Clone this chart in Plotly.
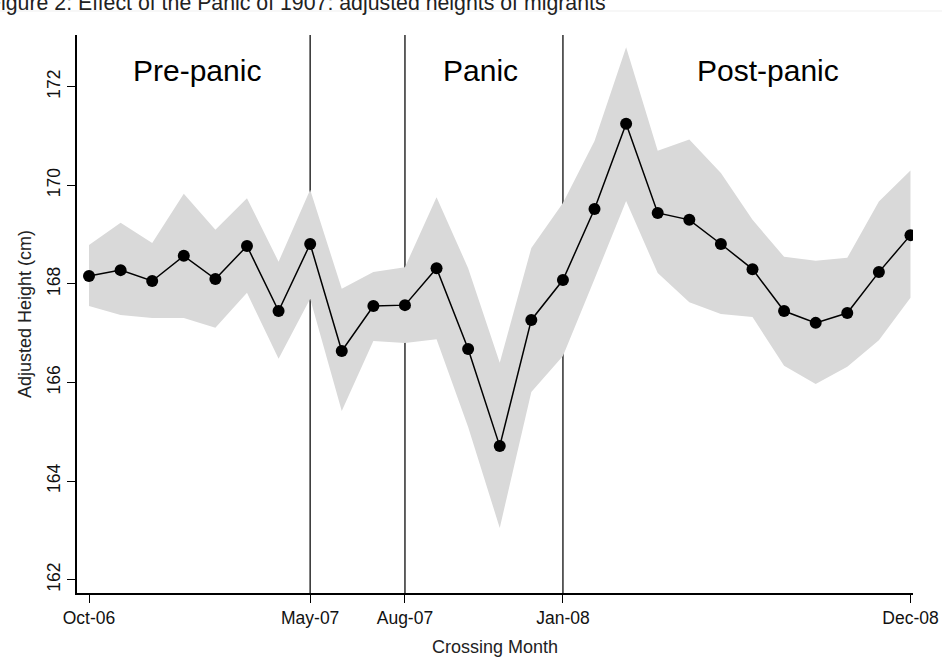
import plotly.graph_objects as go

# ---- data ----
months = ["Oct-06", "Nov-06", "Dec-06", "Jan-07", "Feb-07", "Mar-07", "Apr-07",
          "May-07", "Jun-07", "Jul-07", "Aug-07", "Sep-07", "Oct-07", "Nov-07",
          "Dec-07", "Jan-08", "Feb-08", "Mar-08", "Apr-08", "May-08", "Jun-08",
          "Jul-08", "Aug-08", "Sep-08", "Oct-08", "Nov-08", "Dec-08"]
height = [168.16, 168.28, 168.06, 168.57, 168.10, 168.77, 167.45,
          168.81, 166.64, 167.55, 167.57, 168.32, 166.68, 164.71,
          167.27, 168.08, 169.52, 171.25, 169.44, 169.30, 168.81,
          168.30, 167.45, 167.21, 167.41, 168.24, 168.99]
upper = [168.79, 169.24, 168.83, 169.83, 169.10, 169.74, 168.45,
         169.91, 167.90, 168.24, 168.34, 169.76, 168.32, 166.40,
         168.73, 169.64, 170.90, 172.80, 170.70, 170.93, 170.25,
         169.30, 168.55, 168.47, 168.53, 169.67, 170.30]
lower = [167.55, 167.37, 167.31, 167.31, 167.11, 167.82, 166.48,
         167.70, 165.42, 166.84, 166.80, 166.88, 165.10, 163.05,
         165.81, 166.54, 168.10, 169.68, 168.22, 167.63, 167.39,
         167.33, 166.34, 165.97, 166.32, 166.86, 167.72]
tick_labels = ["Oct-06", "May-07", "Aug-07", "Jan-08", "Dec-08"]
phase_breaks = ["May-07", "Aug-07", "Jan-08"]
phase_names = ["Pre-panic", "Panic", "Post-panic"]
y_ticks = [162, 164, 166, 168, 170, 172]

x = list(range(len(months)))
tick_pos = [months.index(m) for m in tick_labels]
break_pos = [months.index(m) for m in phase_breaks]
phase_x = [3.42, 12.4, 21.5]

FONT = "Liberation Sans, Arial, sans-serif"
fig = go.Figure()

fig.add_trace(go.Scatter(x=x, y=lower, mode="lines", line=dict(width=0),
                         hoverinfo="skip", showlegend=False))
fig.add_trace(go.Scatter(x=x, y=upper, mode="lines", line=dict(width=0),
                         fill="tonexty", fillcolor="#d9d9d9",
                         hoverinfo="skip", showlegend=False))
fig.add_trace(go.Scatter(x=x, y=height, mode="lines+markers",
                         line=dict(color="black", width=1.5),
                         marker=dict(color="black", size=12),
                         showlegend=False))

for b in break_pos:
    fig.add_shape(type="line", xref="x", yref="paper", x0=b, x1=b, y0=0, y1=1,
                  line=dict(color="#3a3a3a", width=1.6), layer="below")

# faint separator line near the top
fig.add_shape(type="line", xref="paper", yref="paper",
              x0=-77 / 836, x1=865 / 836, y0=(593 - 11) / 558, y1=(593 - 11) / 558,
              line=dict(color="#efefef", width=1))

for px_, name in zip(phase_x, phase_names):
    fig.add_annotation(x=px_, xref="x", y=0.937, yref="paper", text=name,
                       showarrow=False, font=dict(family=FONT, size=30, color="black"),
                       xanchor="center", yanchor="middle")

fig.add_annotation(x=(-14 - 77) / 836, xref="paper", y=1.0580, yref="paper",
                   text="Figure 2: Effect of the Panic of 1907: adjusted heights of migrants",
                   showarrow=False, font=dict(family=FONT, size=21.3, color="#222222"),
                   xanchor="left", yanchor="middle")

fig.update_layout(
    width=942, height=657,
    margin=dict(l=77, r=29, t=35, b=64),
    plot_bgcolor="white", paper_bgcolor="white",
    font=dict(family=FONT, color="#222222"),
    xaxis=dict(range=[-0.38, 26.08], tickvals=tick_pos, ticktext=tick_labels,
               automargin=False,
               showgrid=False, zeroline=False, showline=True, linecolor="black",
               linewidth=1.5, ticks="outside", ticklen=8, tickwidth=1.2,
               tickcolor="black", tickfont=dict(size=17.5, family=FONT, color="#111111"),
               title=dict(text="Crossing Month", font=dict(size=18, family=FONT),
                          standoff=22)),
    yaxis=dict(range=[161.73, 173.05], tickvals=y_ticks,
               automargin=False,
               showgrid=False, zeroline=False, showline=True, linecolor="black",
               linewidth=1.5, ticks="outside", ticklen=8, tickwidth=1.2,
               tickcolor="black", tickangle=-90,
               tickfont=dict(size=17.5, family=FONT, color="#111111"),
               title=dict(text="Adjusted Height (cm)", font=dict(size=18, family=FONT),
                          standoff=8)),
)

fig.write_html("out.html", config={"displayModeBar": False},
               post_script="document.body.style.margin='0px';document.body.style.overflow='hidden';")
